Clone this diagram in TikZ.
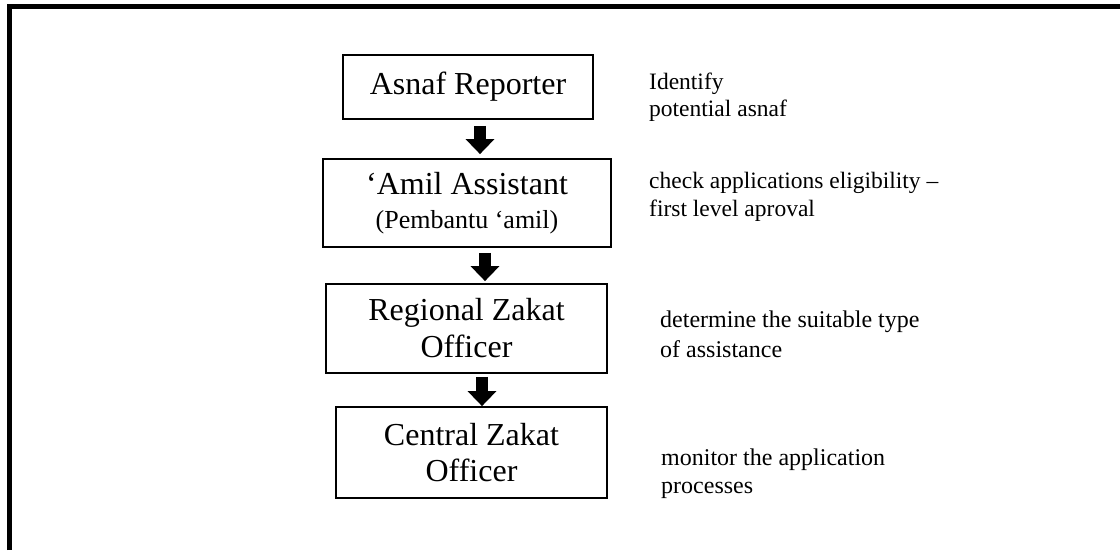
\documentclass[tikz,border=0pt]{standalone}
\usepackage{fontspec}
\setmainfont{Liberation Serif}
\usetikzlibrary{arrows.meta}

\tikzset{
  stage/.style={draw=black, line width=1.8pt, fill=white, inner sep=0pt,
    align=center, font=\fontsize{32}{37}\selectfont},
  note/.style={anchor=base west, align=left, inner sep=0pt,
    font=\fontsize{23.5}{27.5}\selectfont},
  flow/.style={line width=12pt, -{Triangle[width=28pt,length=15pt]}},
  frameline/.style={line width=5pt, line join=miter, line cap=butt}
}

\begin{document}
\begin{tikzpicture}[x=1pt, y=-1pt]
  \useasboundingbox (0,0) rectangle (1120,550);

  % open frame: top and left edges
  \draw[frameline] (9.5,550) -- (9.5,6.5) -- (1120,6.5);

  % approval chain
  \node[stage, minimum width=250pt, minimum height=64pt] (rep) at (468,87) {Asnaf Reporter};
  \node[stage, minimum width=288pt, minimum height=88pt] (amil) at (467,203)
    {‘Amil Assistant\\[-3pt]{\fontsize{26}{31}\selectfont (Pembantu ‘amil)}};
  \node[stage, minimum width=281pt, minimum height=89pt] (reg) at (466.5,328.5)
    {Regional Zakat\\Officer};
  \node[stage, minimum width=271pt, minimum height=91pt, font=\fontsize{32}{36}\selectfont] (cen) at (471.5,452.5)
    {Central Zakat\\Officer};

  % arrow columns
  \coordinate (c1) at (480,0);
  \coordinate (c2) at (485,0);
  \coordinate (c3) at (482,0);

  \draw[flow] ([yshift=-6pt]rep.south -| c1) -- ([yshift=4pt]amil.north -| c1);
  \draw[flow] ([yshift=-5pt]amil.south -| c2) -- ([yshift=2pt]reg.north -| c2);
  \draw[flow] ([yshift=-3pt]reg.south -| c3) -- ([yshift=0pt]cen.north -| c3);

  % role descriptions (base anchor sits on the last line)
  \node[note, font=\fontsize{23.5}{26.5}\selectfont] (d1) at (649,116) {Identify\\potential asnaf};
  \node[note, font=\fontsize{23.5}{28}\selectfont] (d2) at (649,216) {check applications eligibility –\\first level aproval};
  \node[note, font=\fontsize{24}{30}\selectfont] (d3) at (660,357) {determine the suitable type\\of assistance};
  \node[note, font=\fontsize{24}{28}\selectfont] (d4) at (661,493) {monitor the application\\processes};
\end{tikzpicture}
\end{document}
